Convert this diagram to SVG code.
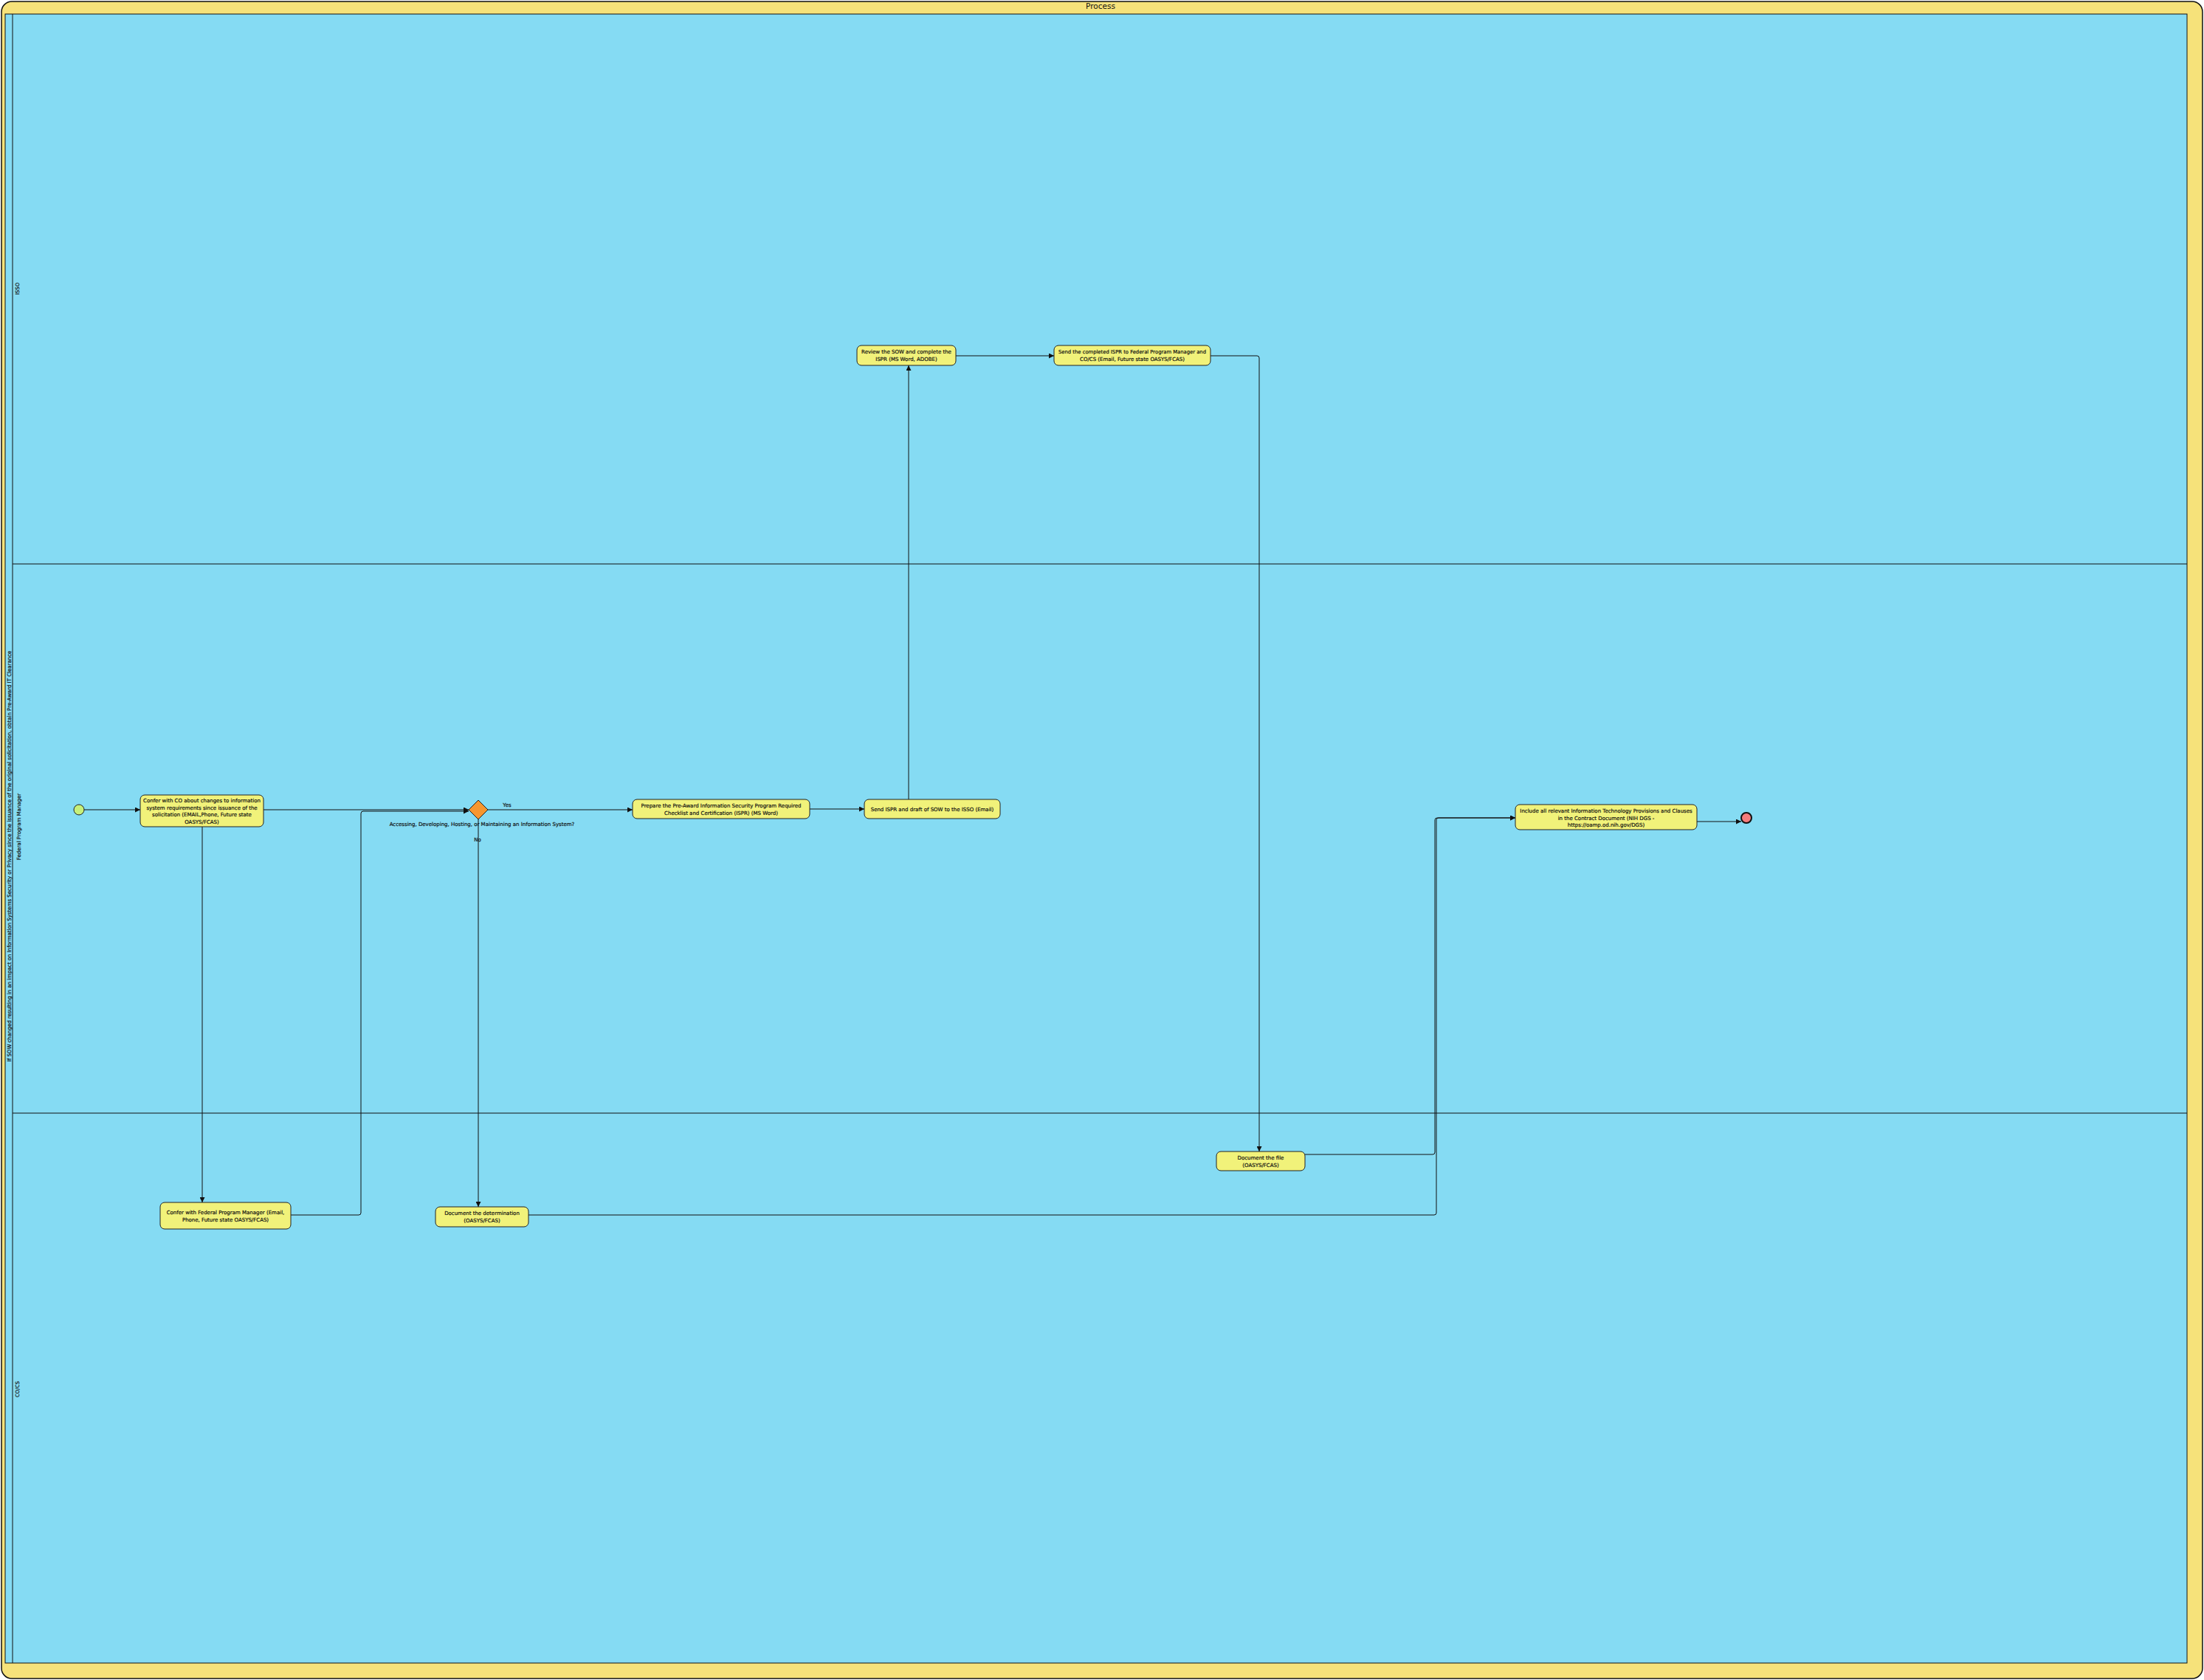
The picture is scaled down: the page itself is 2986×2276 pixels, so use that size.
<svg xmlns="http://www.w3.org/2000/svg" width="2986" height="2276" viewBox="0 0 2986 2276">
<style>
.t{font-family:"DejaVu Sans","Liberation Sans",sans-serif;font-size:7px;fill:#111;stroke:#111;stroke-width:0.2;text-anchor:middle}
.node{fill:#F1F27A;stroke:#222;stroke-width:1}
.c{fill:none;stroke:#111;stroke-width:1}
.lane{fill:none;stroke:#111;stroke-width:1}
</style>
<defs>
<marker id="ah" viewBox="0 0 10 10" refX="10" refY="5" markerWidth="7" markerHeight="7" markerUnits="userSpaceOnUse" orient="auto">
<path d="M0,0 L10,5 L0,10 z" fill="#111"/>
</marker>
</defs>
<g id="pool">
<rect x="2" y="2" width="2982" height="2272" rx="14" fill="#F6E27A" stroke="#111" stroke-width="1.5"/>
<text x="1491" y="12" style="font-family:'DejaVu Sans','Liberation Sans',sans-serif;font-size:10.5px;fill:#111;text-anchor:middle">Process</text>
<rect x="7" y="19" width="2956" height="2234" fill="#85DBF3" stroke="#111" stroke-width="1"/>
<line class="lane" x1="17" y1="19" x2="17" y2="2253"/>
<line class="lane" x1="17" y1="764" x2="2963" y2="764"/>
<line class="lane" x1="17" y1="1508" x2="2963" y2="1508"/>
<text class="t" transform="translate(14.5,1160) rotate(-90)">If SOW changed resulting in an impact on Information Systems Security or Privacy since the issuance of the original solicitation, obtain Pre-Award IT Clearance</text>
<text class="t" transform="translate(25.5,391) rotate(-90)">ISSO</text>
<text class="t" transform="translate(28,1120) rotate(-90)">Federal Program Manager</text>
<text class="t" transform="translate(25.5,1882) rotate(-90)">CO/CS</text>
</g>
<g id="connectors">
<path class="c" d="M114,1097 H190" marker-end="url(#ah)"/>
<path class="c" d="M357,1097 H635" marker-end="url(#ah)"/>
<path class="c" d="M274,1120 V1629" marker-end="url(#ah)"/>
<path class="c" d="M394,1646 H486 Q489,1646 489,1643 V1102 Q489,1099 492,1099 H635" marker-end="url(#ah)"/>
<path class="c" d="M661,1097 H857" marker-end="url(#ah)"/>
<text class="t" x="687" y="1093">Yes</text>
<path class="c" d="M648,1110 V1635" marker-end="url(#ah)"/>
<text class="t" x="647" y="1140">No</text>
<path class="c" d="M1097,1096 H1171" marker-end="url(#ah)"/>
<path class="c" d="M1231,1083 V495" marker-end="url(#ah)"/>
<path class="c" d="M1295,482 H1428" marker-end="url(#ah)"/>
<path class="c" d="M1640,482 H1703 Q1706,482 1706,485 V1560" marker-end="url(#ah)"/>
<path class="c" d="M1768,1564 H1941 Q1944,1564 1944,1561 V1111 Q1944,1108 1947,1108 H2053" marker-end="url(#ah)"/>
<path class="c" d="M716,1646 H1943 Q1946,1646 1946,1643 V1111 Q1946,1108 1949,1108 H2053" marker-end="url(#ah)"/>
<path class="c" d="M2299,1113 H2359" marker-end="url(#ah)"/>
</g>
<g id="start">
<circle cx="107" cy="1097" r="7" fill="#C6F07A" stroke="#222" stroke-width="1"/>
</g>
<g id="confer-co">
<rect class="node" x="190" y="1077" width="167" height="43" rx="6"/>
<text class="t" x="273.5" y="1087">Confer with CO about changes to information</text>
<text class="t" x="273.5" y="1096.5">system requirements since issuance of the</text>
<text class="t" x="273.5" y="1106">solicitation (EMAIL,Phone, Future state</text>
<text class="t" x="273.5" y="1115.5">OASYS/FCAS)</text>
</g>
<g id="gateway">
<path d="M648,1084 L661,1097 L648,1110 L635,1097 z" fill="#F7962F" stroke="#222" stroke-width="1"/>
<text class="t" x="653" y="1118.5">Accessing, Developing, Hosting, or Maintaining an Information System?</text>
</g>
<g id="prepare">
<rect class="node" x="857" y="1083" width="240" height="26" rx="6"/>
<text class="t" x="977" y="1094">Prepare the Pre-Award Information Security Program Required</text>
<text class="t" x="977" y="1103.5">Checklist and Certification (ISPR) (MS Word)</text>
</g>
<g id="send-ispr">
<rect class="node" x="1171" y="1083" width="184" height="26" rx="6"/>
<text class="t" x="1263" y="1098.5">Send ISPR and draft of SOW to the ISSO (Email)</text>
</g>
<g id="review">
<rect class="node" x="1161" y="468" width="134" height="27" rx="6"/>
<text class="t" x="1228" y="479">Review the SOW and complete the</text>
<text class="t" x="1228" y="488.5">ISPR (MS Word, ADOBE)</text>
</g>
<g id="send-completed">
<rect class="node" x="1428" y="468" width="212" height="27" rx="6"/>
<text class="t" x="1534" y="479" style="font-size:6.8px">Send the completed ISPR to Federal Program Manager and</text>
<text class="t" x="1534" y="488.5">CO/CS (Email, Future state OASYS/FCAS)</text>
</g>
<g id="confer-fpm">
<rect class="node" x="217" y="1629" width="177" height="36" rx="6"/>
<text class="t" x="305.5" y="1645">Confer with Federal Program Manager (Email,</text>
<text class="t" x="305.5" y="1654.5">Phone, Future state OASYS/FCAS)</text>
</g>
<g id="document-determination">
<rect class="node" x="590" y="1635" width="126" height="27" rx="6"/>
<text class="t" x="653" y="1646">Document the determination</text>
<text class="t" x="653" y="1655.5">(OASYS/FCAS)</text>
</g>
<g id="document-file">
<rect class="node" x="1648" y="1560" width="120" height="26" rx="6"/>
<text class="t" x="1708" y="1571">Document the file</text>
<text class="t" x="1708" y="1580.5">(OASYS/FCAS)</text>
</g>
<g id="include">
<rect class="node" x="2053" y="1090" width="246" height="34" rx="6"/>
<text class="t" x="2176" y="1101">Include all relevant Information Technology Provisions and Clauses</text>
<text class="t" x="2176" y="1110.5">in the Contract Document (NIH DGS -</text>
<text class="t" x="2176" y="1120">https://oamp.od.nih.gov/DGS)</text>
</g>
<g id="end">
<circle cx="2366" cy="1108" r="7" fill="#F57C7C" stroke="#111" stroke-width="2"/>
</g>
</svg>
